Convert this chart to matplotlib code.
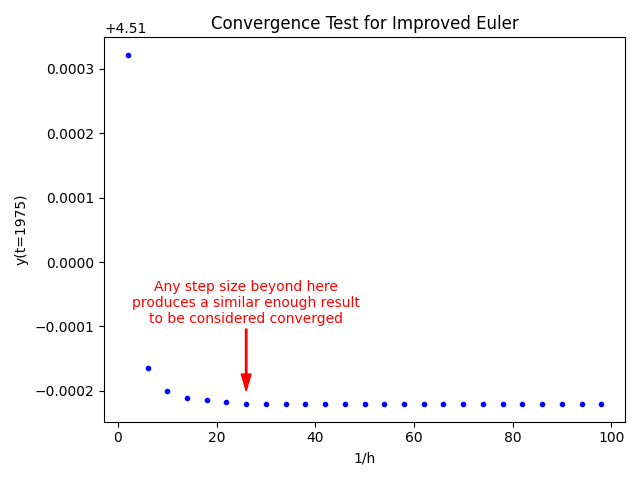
import matplotlib
matplotlib.use("Agg")
import matplotlib.pyplot as plt
import numpy as np

inv_h = [2, 6, 10, 14, 18, 22, 26, 30, 34, 38, 42, 46, 50, 54, 58, 62, 66, 70,
         74, 78, 82, 86, 90, 94, 98]
y_end = [4.510322, 4.509836, 4.509799, 4.509788, 4.509785, 4.509782, 4.509780,
         4.509780, 4.509780, 4.509779, 4.509779, 4.509779, 4.509779, 4.509779,
         4.509779, 4.509779, 4.509779, 4.509779, 4.509779, 4.509779, 4.509779,
         4.509779, 4.509779, 4.509779, 4.509779]

fig, ax = plt.subplots(figsize=(6.4, 4.8), dpi=100)
ax.plot(inv_h, y_end, 'b.')
ax.set_title("Convergence Test for Improved Euler")
ax.set_xlabel("1/h")
ax.set_ylabel("y(t=1975)")
ax.annotate("Any step size beyond here\nproduces a similar enough result\nto be considered converged",
            xy=(26, 4.5098), xytext=(26, 4.5099), color='red', ha='center', va='bottom',
            arrowprops=dict(color='red', width=1, headwidth=7, headlength=12))
fig.tight_layout()
fig.savefig("out.png")
